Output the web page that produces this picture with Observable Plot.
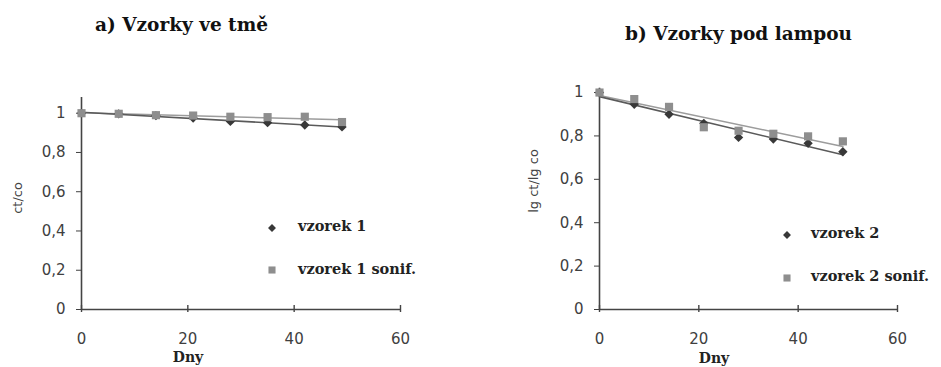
<!DOCTYPE html>
<html><head><meta charset="utf-8">
<script src="https://cdn.jsdelivr.net/npm/d3@7"></script>
<script src="https://cdn.jsdelivr.net/npm/@observablehq/plot@0.6"></script>
<style>
html,body{margin:0;padding:0;background:#fff;width:941px;height:367px;overflow:hidden;}
#root{position:relative;width:941px;height:367px;}
svg.plot{position:absolute;top:0;}
svg.overlay{position:absolute;left:0;top:0;pointer-events:none;}
.title{font-family:"DejaVu Serif",serif;font-weight:bold;font-size:18.5px;fill:#111;}
.xlab{font-family:"DejaVu Serif",serif;font-weight:bold;font-size:14px;fill:#222;}
.ylab{font-family:"DejaVu Sans",sans-serif;font-size:13px;fill:#444;}
.leg{font-family:"DejaVu Serif",serif;font-weight:bold;font-size:14.5px;fill:#222;}
</style></head>
<body><div id="root"></div>
<script>
const days = [0, 7, 14, 21, 28, 35, 42, 49];
const vzorek1 = [1, 0.997, 0.988, 0.975, 0.958, 0.952, 0.94, 0.93];
const vzorek1Sonif = [1, 0.997, 0.99, 0.988, 0.982, 0.98, 0.982, 0.955];
const vzorek2 = [1, 0.946, 0.90, 0.858, 0.793, 0.786, 0.766, 0.727];
const vzorek2Sonif = [1, 0.97, 0.934, 0.84, 0.824, 0.81, 0.798, 0.775];
const xTicks = [0, 20, 40, 60];
const yTicks = [0, 0.2, 0.4, 0.6, 0.8, 1];
const titles = ["a) Vzorky ve tmě", "b) Vzorky pod lampou"];
const yLabels = ["ct/co", "lg ct/lg co"];
const xLabel = "Dny";
const legendA = ["vzorek 1", "vzorek 1 sonif."];
const legendB = ["vzorek 2", "vzorek 2 sonif."];

const DARK = "#383838", GRAY = "#8e8e8e";
const fmt = d => (d === 0 || d === 1) ? String(d) : d3.format(".1f")(d).replace(".", ",");
function rows(vals){ return days.map((d,i)=>({x:d, y:vals[i]})); }

function panel(opts){
  const a = rows(opts.s1), b = rows(opts.s2);
  const p = Plot.plot({
    width: opts.width, height: 367,
    marginLeft: opts.ml, marginRight: opts.mr, marginTop: opts.mt, marginBottom: 58,
    style: {background:"transparent", fontFamily:"DejaVu Sans, sans-serif", fontSize:"15px", color:"#404040"},
    x: {domain:[0,60], ticks: xTicks, tickSize: 0, tickPadding: 24, tickFormat: d => String(d), label: null},
    y: {domain:[0, opts.ymax], ticks: yTicks, tickSize: 5, tickPadding: 11, tickFormat: fmt, label: null},
    marks: [
      Plot.ruleX([0], {stroke:"#444", strokeWidth:1.6}),
      Plot.ruleY([0], {stroke:"#444", strokeWidth:1.6}),
      Plot.ruleX(xTicks, {x: d=>d, y1: 0, y2: 0, insetTop: -4, insetBottom: -3, stroke:"#444", strokeWidth:1.4}),
      Plot.linearRegressionY(b, {x:"x", y:"y", stroke:"#9c9c9c", strokeWidth:1.6, ci:0}),
      Plot.linearRegressionY(a, {x:"x", y:"y", stroke:"#5a5a5a", strokeWidth:1.6, ci:0}),
      Plot.dot(a, {x:"x", y:"y", symbol:"diamond2", r:4.2, fill:DARK, stroke:"none"}),
      Plot.dot(b, {x:"x", y:"y", symbol:"square", r:4.6, fill:GRAY, stroke:"none"})
    ]
  });
  p.classList.add("plot");
  p.style.left = opts.left + "px";
  return p;
}

const root = document.getElementById("root");
root.appendChild(panel({left:0, width:470, ml:81, mr:70, mt:97, ymax:1.08, s1:vzorek1, s2:vzorek1Sonif}));
root.appendChild(panel({left:520, width:421, ml:79, mr:44, mt:87.7, ymax:1.02, s1:vzorek2, s2:vzorek2Sonif}));

const ov = d3.select(root).append("svg").attr("class","overlay").attr("width",941).attr("height",367);
function txt(cls, t, x, y, anchor){ return ov.append("text").attr("class",cls).attr("x",x).attr("y",y).attr("text-anchor",anchor||"start").text(t); }
txt("title", titles[0], 95, 31);
txt("title", titles[1], 625, 40);
txt("xlab", xLabel, 188, 362, "middle");
txt("xlab", xLabel, 714, 363, "middle");
ov.append("text").attr("class","ylab").attr("text-anchor","middle")
  .attr("transform","translate(22,198) rotate(-90)").text(yLabels[0]);
ov.append("text").attr("class","ylab").attr("text-anchor","middle")
  .attr("transform","translate(538,181) rotate(-90)").text(yLabels[1]);

function legendItem(sym, color, label, cx, cy, tx, base){
  ov.append("path").attr("d", d3.symbol(sym, sym === d3.symbolSquare ? 50 : 40)())
    .attr("transform", `translate(${cx},${cy})`).attr("fill", color);
  txt("leg", label, tx, base);
}
legendItem(d3.symbolDiamond2, DARK, legendA[0], 272, 228, 298, 231);
legendItem(d3.symbolSquare, GRAY, legendA[1], 272, 270, 298, 274);
legendItem(d3.symbolDiamond2, DARK, legendB[0], 787, 235, 811, 238);
legendItem(d3.symbolSquare, GRAY, legendB[1], 787, 278, 811, 281);
</script>
</body></html>
